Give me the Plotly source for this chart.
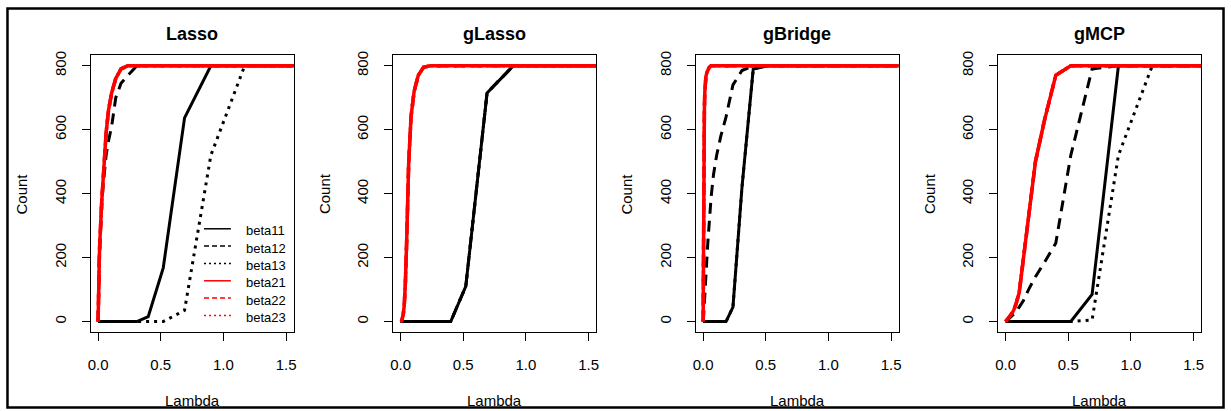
import plotly.graph_objects as go

# Tuning-parameter grid (shared by all methods)
lam = [0, 0.0021, 0.0027, 0.0035, 0.0045, 0.0059, 0.0077, 0.010, 0.013, 0.017,
       0.022, 0.029, 0.038, 0.049, 0.064, 0.083, 0.108, 0.141, 0.183, 0.238,
       0.31, 0.40, 0.52, 0.69, 0.90, 1.17, 1.52, 1.98]

methods = ["Lasso", "gLasso", "gBridge", "gMCP"]
series_names = ["beta11", "beta12", "beta13", "beta21", "beta22", "beta23"]

# Lasso
lasso_beta11 = [0, 0, 0, 0, 0, 0, 0, 0, 0, 0, 0, 0, 0, 0, 0, 0, 0, 0, 0, 0,
                0, 15, 168, 637, 800, 800, 800, 800]
lasso_beta12 = [0, 90, 105, 120, 140, 160, 175, 195, 230, 270, 310, 360, 415, 470,
                520, 565, 610, 700, 745, 770, 800, 800, 800, 800, 800, 800, 800, 800]
lasso_beta13 = [0, 0, 0, 0, 0, 0, 0, 0, 0, 0, 0, 0, 0, 0, 0, 0, 0, 0, 0, 0,
                0, 0, 0, 35, 520, 800, 800, 800]
lasso_beta21 = [0, 100, 115, 130, 150, 165, 180, 200, 240, 290, 330, 375, 430, 510,
                590, 660, 715, 760, 790, 800, 800, 800, 800, 800, 800, 800, 800, 800]
lasso_beta22 = [0, 100, 115, 130, 150, 165, 180, 200, 240, 290, 330, 375, 430, 510,
                590, 660, 715, 760, 790, 800, 800, 800, 800, 800, 800, 800, 800, 800]
lasso_beta23 = [0, 100, 115, 130, 150, 165, 180, 200, 240, 290, 330, 375, 430, 510,
                590, 660, 715, 760, 790, 800, 800, 800, 800, 800, 800, 800, 800, 800]

# Group lasso: members of a group enter together
glasso_beta1x = [0, 0, 0, 0, 0, 0, 0, 0, 0, 0, 0, 0, 0, 0, 0, 0, 0, 0, 0, 0,
                 0, 0, 110, 715, 800, 800, 800, 800]
glasso_beta2x = [0, 0, 0, 0, 0, 1, 2, 4, 8, 15, 25, 50, 120, 260,
                 490, 640, 720, 770, 795, 800, 800, 800, 800, 800, 800, 800, 800, 800]

# Group bridge
gbridge_beta11 = [0, 0, 0, 0, 0, 0, 0, 0, 0, 0, 0, 0, 0, 0, 0, 0, 0, 0, 0, 45,
                  420, 790, 800, 800, 800, 800, 800, 800]
gbridge_beta12 = [0, 5, 10, 15, 20, 30, 40, 55, 70, 90, 130, 190, 250, 310,
                  390, 460, 520, 580, 640, 740, 785, 800, 800, 800, 800, 800, 800, 800]
gbridge_beta13 = [0, 0, 0, 0, 0, 0, 0, 0, 0, 0, 0, 0, 0, 0, 0, 0, 0, 0, 0, 45,
                  420, 790, 800, 800, 800, 800, 800, 800]
gbridge_beta2x = [0, 300, 350, 400, 460, 530, 600, 660, 715, 745, 765, 778, 788, 795,
                  800, 800, 800, 800, 800, 800, 800, 800, 800, 800, 800, 800, 800, 800]

# Group MCP
gmcp_beta11 = [0, 0, 0, 0, 0, 0, 0, 0, 0, 0, 0, 0, 0, 0, 0, 0, 0, 0, 0, 0,
               0, 0, 0, 85, 800, 800, 800, 800]
gmcp_beta12 = [0, 1, 1, 1, 2, 2, 3, 4, 5, 6, 8, 10, 13, 17, 22, 30, 45, 65, 100, 140,
               185, 245, 520, 790, 800, 800, 800, 800]
gmcp_beta13 = [0, 0, 0, 0, 0, 0, 0, 0, 0, 0, 0, 0, 0, 0, 0, 0, 0, 0, 0, 0,
               0, 0, 0, 5, 520, 800, 800, 800]
gmcp_beta2x = [0, 1, 1, 2, 2, 3, 4, 5, 7, 9, 12, 15, 20, 25, 35, 55, 90, 200, 330, 500,
               630, 770, 800, 800, 800, 800, 800, 800]

panel_series = {
    "Lasso": [lasso_beta11, lasso_beta12, lasso_beta13,
              lasso_beta21, lasso_beta22, lasso_beta23],
    "gLasso": [glasso_beta1x, glasso_beta1x, glasso_beta1x,
               glasso_beta2x, glasso_beta2x, glasso_beta2x],
    "gBridge": [gbridge_beta11, gbridge_beta12, gbridge_beta13,
                gbridge_beta2x, gbridge_beta2x, gbridge_beta2x],
    "gMCP": [gmcp_beta11, gmcp_beta12, gmcp_beta13,
             gmcp_beta2x, gmcp_beta2x, gmcp_beta2x],
}

x_ticks = [0, 0.5, 1.0, 1.5]
y_ticks = [0, 200, 400, 600, 800]

colors = ["black", "black", "black", "red", "red", "red"]
dashes = ["solid", "11px,7px", "3px,5px", "solid", "11px,7px", "3px,5px"]
key_dashes = ["solid", "5px,3px", "2px,3px", "solid", "5px,3px", "2px,3px"]
widths = [3, 3, 3, 3.5, 3.5, 3.5]

W, H = 1231, 411
FONT = "Liberation Sans, Arial, sans-serif"
box_left = [88, 392, 696, 1000]
box_w = 204
box_top, box_bottom = 52, 331


def px(x):
    return x / W


def py(y):
    return 1 - y / H


fig = go.Figure()
for k, m in enumerate(methods):
    xa = "x" if k == 0 else f"x{k + 1}"
    ya = "y" if k == 0 else f"y{k + 1}"
    for j, name in enumerate(series_names):
        fig.add_trace(go.Scatter(
            x=lam, y=panel_series[m][j], mode="lines", xaxis=xa, yaxis=ya, name=name,
            line=dict(color=colors[j], width=widths[j], dash=dashes[j]),
            showlegend=False, hoverinfo="skip"))

annotations = []
shapes = [dict(type="rect", xref="paper", yref="paper",
               x0=px(4.5), x1=px(1226.5), y0=py(407.5), y1=py(4.5),
               line=dict(color="black", width=2.5))]

for k, m in enumerate(methods):
    L = box_left[k]
    dom_x = [px(L), px(L + box_w)]
    axis_common = dict(showline=True, linecolor="black", linewidth=1, mirror=True,
                       ticks="outside", ticklen=8, tickcolor="black", tickwidth=1,
                       showgrid=False, zeroline=False,
                       tickfont=dict(family=FONT, size=15, color="black"))
    fig.layout[f"xaxis{k + 1}"] = dict(
        domain=dom_x, anchor=f"y{k + 1}" if k else "y", range=[-0.06, 1.56],
        tickvals=x_ticks, tickformat=".1f", ticklabelstandoff=11, **axis_common)
    fig.layout[f"yaxis{k + 1}"] = dict(
        domain=[py(box_bottom), py(box_top)], anchor=f"x{k + 1}" if k else "x",
        range=[-32, 832], tickvals=y_ticks, tickangle=-90, ticklabelstandoff=10,
        **axis_common)
    cx = px(L + box_w / 2)
    annotations.append(dict(text=f"<b>{m}</b>", x=cx, y=py(30), xref="paper", yref="paper",
                            showarrow=False, xanchor="center", yanchor="middle",
                            font=dict(family=FONT, size=18, color="black")))
    annotations.append(dict(text="Count", x=px(L - 69), y=py((box_top + box_bottom) / 2),
                            xref="paper", yref="paper", textangle=-90, showarrow=False,
                            xanchor="center", yanchor="middle",
                            font=dict(family=FONT, size=15, color="black")))
    annotations.append(dict(text="Lambda", x=cx, y=py(400), xref="paper", yref="paper",
                            showarrow=False, xanchor="center", yanchor="middle",
                            font=dict(family=FONT, size=15, color="black")))

# Key inside the first panel: sample line plus label for each series
key_x0, key_x1, key_text_x = 202, 229, 242
key_top, key_step = 227, 17.5
for j, name in enumerate(series_names):
    yk = key_top + j * key_step
    shapes.append(dict(type="line", xref="paper", yref="paper",
                       x0=px(key_x0), x1=px(key_x1), y0=py(yk), y1=py(yk),
                       line=dict(color=colors[j], width=1.5, dash=key_dashes[j])))
    annotations.append(dict(text=name, x=px(key_text_x), y=py(yk + 2), xref="paper",
                            yref="paper", showarrow=False, xanchor="left",
                            yanchor="middle",
                            font=dict(family=FONT, size=13, color="black")))

fig.update_layout(
    width=W, height=H, margin=dict(l=0, r=0, t=0, b=0),
    paper_bgcolor="white", plot_bgcolor="white",
    annotations=annotations, shapes=shapes, showlegend=False,
)

fig.write_html("out.html")
